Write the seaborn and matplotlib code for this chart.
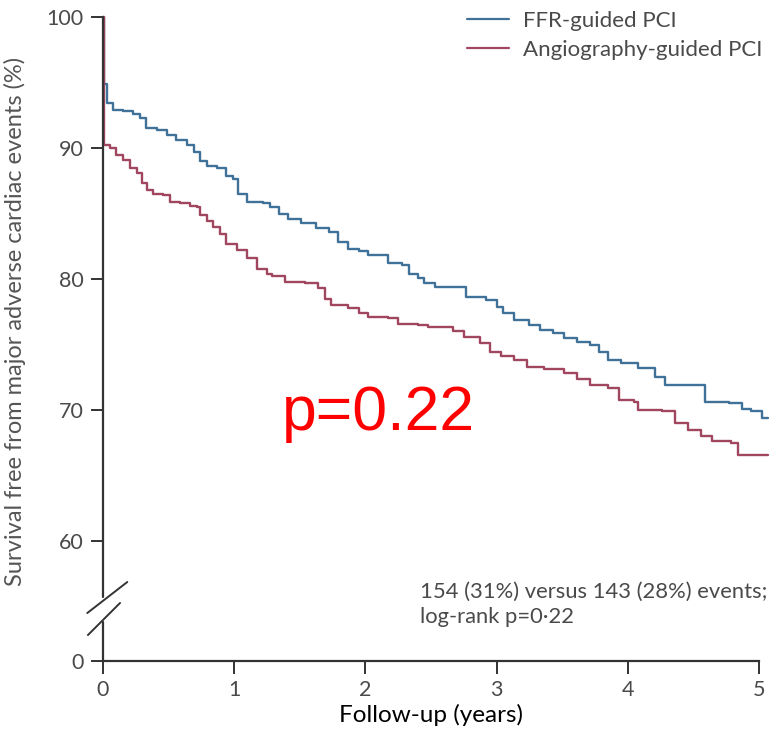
import matplotlib
matplotlib.use("Agg")
import matplotlib.pyplot as plt
import numpy as np
import pandas as pd
import seaborn as sns

# Kaplan-Meier estimates (years, % event free)
ffr_years = [0.0, 0.004, 0.03, 0.08, 0.155, 0.23, 0.28, 0.33, 0.41, 0.49,
             0.56, 0.64, 0.69, 0.74, 0.79, 0.87, 0.94, 0.99, 1.03, 1.10,
             1.22, 1.27, 1.34, 1.41, 1.51, 1.62, 1.72, 1.79, 1.87, 1.95,
             2.02, 2.17, 2.28, 2.33, 2.40, 2.45, 2.53, 2.77, 2.92, 3.00,
             3.05, 3.13, 3.25, 3.33, 3.43, 3.51, 3.61, 3.71, 3.78, 3.85,
             3.95, 4.08, 4.21, 4.28, 4.59, 4.77, 4.87, 4.94, 5.02, 5.07]
ffr_surv = [100.0, 94.9, 93.4, 92.9, 92.8, 92.6, 92.3, 91.5, 91.4, 91.0,
            90.6, 90.2, 89.7, 89.0, 88.6, 88.5, 87.9, 87.6, 86.5, 85.9,
            85.8, 85.5, 85.0, 84.6, 84.3, 83.9, 83.6, 82.8, 82.3, 82.1,
            81.8, 81.2, 81.1, 80.4, 80.1, 79.7, 79.4, 78.6, 78.4, 77.9,
            77.4, 76.9, 76.5, 76.1, 75.9, 75.5, 75.2, 75.0, 74.4, 73.8,
            73.6, 73.2, 72.5, 71.9, 70.6, 70.5, 70.1, 69.9, 69.4, 69.4]

angio_years = [0.0, 0.004, 0.01, 0.053, 0.10, 0.155, 0.206, 0.257, 0.295, 0.333,
               0.384, 0.46, 0.51, 0.59, 0.66, 0.714, 0.74, 0.79, 0.84, 0.89,
               0.94, 1.02, 1.10, 1.17, 1.25, 1.29, 1.39, 1.54, 1.64, 1.69,
               1.74, 1.87, 1.95, 2.02, 2.17, 2.25, 2.40, 2.48, 2.67, 2.75,
               2.87, 2.95, 3.03, 3.13, 3.23, 3.36, 3.51, 3.61, 3.71, 3.85,
               3.93, 4.05, 4.08, 4.26, 4.36, 4.46, 4.56, 4.64, 4.79, 4.84, 5.07]
angio_surv = [100.0, 92.0, 90.2, 90.0, 89.5, 89.1, 88.5, 88.1, 87.3, 86.8,
              86.5, 86.4, 85.9, 85.8, 85.6, 85.5, 84.9, 84.4, 84.0, 83.4,
              82.7, 82.2, 81.6, 80.8, 80.4, 80.2, 79.8, 79.7, 79.3, 78.5,
              78.0, 77.8, 77.4, 77.1, 77.0, 76.6, 76.5, 76.3, 76.0, 75.6,
              75.1, 74.4, 74.1, 73.8, 73.3, 73.1, 72.8, 72.4, 71.9, 71.7,
              70.8, 70.6, 70.0, 69.9, 69.0, 68.5, 68.0, 67.6, 67.5, 66.6, 66.6]

groups = ["FFR-guided PCI", "Angiography-guided PCI"]
colors = ["#3f7199", "#a0465f"]
x_ticks = [0, 1, 2, 3, 4, 5]
y_ticks = [60, 70, 80, 90, 100]

# the axis is broken below 60; "0" sits on the x axis
y_bottom = 50.84

df = pd.concat([
    pd.DataFrame({"years": ffr_years, "surv": ffr_surv, "group": groups[0]}),
    pd.DataFrame({"years": angio_years, "surv": angio_surv, "group": groups[1]}),
], ignore_index=True)

sns.set_style("ticks")
plt.rcParams["font.family"] = ["Lato", "DejaVu Sans"]

fig = plt.figure(figsize=(7.7, 7.32), dpi=100)
ax = fig.add_axes([103 / 770, 1 - 661 / 732, 656 / 770, 644 / 732])

sns.lineplot(
    data=df, x="years", y="surv", hue="group", hue_order=groups,
    palette=colors, estimator=None, sort=False, drawstyle="steps-post",
    linewidth=1.7, ax=ax, legend=False,
)
for line in ax.get_lines():
    line.set_clip_on(False)

ax.set_xlim(0, 5)
ax.set_ylim(y_bottom, 100)

ax.set_xticks(x_ticks)
ax.set_xticklabels([str(v) for v in x_ticks])
ax.set_yticks([y_bottom] + y_ticks)
ax.set_yticklabels(["0"] + [str(v) for v in y_ticks])

ax.tick_params(axis="both", direction="out", length=9, width=1.4,
               color="#333333", labelsize=15.5, labelcolor="#4a4a4a", pad=5)

for side in ["top", "right", "left"]:
    ax.spines[side].set_visible(False)
ax.spines["bottom"].set_linewidth(1.6)
ax.spines["bottom"].set_color("#333333")

# left spine with a break between 60 and 0
trans = ax.get_yaxis_transform()
ax.plot([0, 0], [55.7, 100], transform=trans, color="#333333", lw=1.6, clip_on=False)
ax.plot([0, 0], [y_bottom, 53.8], transform=trans, color="#333333", lw=1.6, clip_on=False)
ax.plot([-0.024, 0.037], [54.5, 56.87], transform=trans, color="#333333", lw=1.4, clip_on=False)
ax.plot([-0.023, 0.026], [52.82, 55.27], transform=trans, color="#333333", lw=1.4, clip_on=False)

ax.set_xlabel("Follow-up (years)", fontsize=17.5, color="black")
ax.xaxis.set_label_coords(0.5, -0.066)
ax.set_ylabel("Survival free from major adverse cardiac events (%)",
              fontsize=17, color="#555555")
ax.yaxis.set_label_coords(-0.118, 0.527)

handles = [plt.Line2D([], [], color=c, lw=1.6) for c in colors]
leg = ax.legend(handles, groups, loc="upper right", bbox_to_anchor=(1.035, 1.04),
                frameon=False, fontsize=16, handlelength=1.9, handletextpad=0.6,
                labelspacing=0.4)
for t in leg.get_texts():
    t.set_color("#4a4a4a")

ax.text(0.483, 0.123, "154 (31%) versus 143 (28%) events;\nlog-rank p=0\u00b722",
        transform=ax.transAxes, fontsize=15.8, color="#4a4a4a",
        va="top", ha="left", linespacing=1.3)

ax.text(0.42, 0.385, "p=0.22", transform=ax.transAxes, fontsize=45,
        color="#ff0000", ha="center", va="center", family="Liberation Sans")

fig.savefig("out.png", dpi=100)
